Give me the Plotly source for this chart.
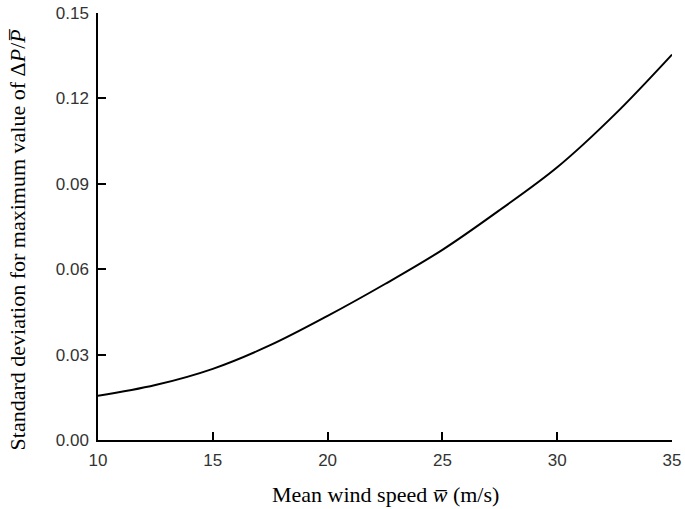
import plotly.graph_objects as go

wind_speed = [10, 12.5, 15, 17.5, 20, 22.5, 25, 27.5, 30, 32.5, 35]
std_dev = [0.0155, 0.0193, 0.0250, 0.0333, 0.0436, 0.0548, 0.0668, 0.0808, 0.0958, 0.1143, 0.1354]

x_ticks = [10, 15, 20, 25, 30, 35]
y_ticks = [0.00, 0.03, 0.06, 0.09, 0.12, 0.15]
y_labels = ["0.00", "0.03", "0.06", "0.09", "0.12", "0.15"]

fig = go.Figure()
fig.add_trace(go.Scatter(x=wind_speed, y=std_dev, mode="lines",
                         line=dict(color="black", width=2, shape="spline", smoothing=1.0),
                         showlegend=False))

axis_style = dict(showline=True, linecolor="black", linewidth=1.5, ticks="inside",
                  ticklen=8, tickwidth=1.5, tickcolor="black", showgrid=False, zeroline=False,
                  automargin=False, ticklabelstandoff=4, ticklabeloverflow="allow",
                  tickfont=dict(family="Liberation Sans, Arial", size=17, color="#333"))

fig.update_xaxes(range=[10, 35], tickvals=x_ticks, **axis_style)
fig.update_yaxes(range=[0, 0.15], tickvals=y_ticks, ticktext=y_labels, **axis_style)

fig.add_annotation(text="Mean wind speed <i>w\u0305</i> (m/s)", xref="paper", yref="paper",
                   x=0.5, y=-0.128, xanchor="center", yanchor="middle", showarrow=False,
                   font=dict(family="Liberation Serif, Times New Roman", size=22, color="black"))
fig.add_annotation(text="Standard deviation for maximum value of \u0394<i>P</i>/<i>P\u0305</i>",
                   xref="paper", yref="paper", x=-0.141, y=0.47, xanchor="center", yanchor="middle",
                   textangle=-90, showarrow=False,
                   font=dict(family="Liberation Serif, Times New Roman", size=22, color="black"))

fig.update_layout(width=685, height=509, margin=dict(l=98, r=13, t=13, b=69),
                  plot_bgcolor="white", paper_bgcolor="white")
# drop the default 8px body margin so the figure sits at the window corner
fig.write_html("out.html", config={"displayModeBar": False},
               post_script="document.body.style.margin='0px';")
